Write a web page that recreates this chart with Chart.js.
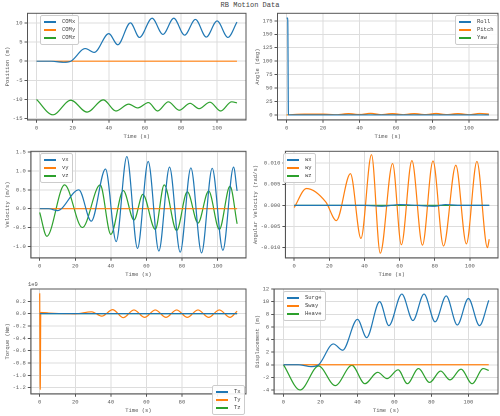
<!DOCTYPE html>
<html><head><meta charset="utf-8">
<script src="https://cdn.jsdelivr.net/npm/chart.js@4"></script>
<style>
body{margin:0;width:500px;height:416px;background:#fff;position:relative;overflow:hidden;font-family:"Liberation Mono",monospace}
.c{position:absolute}
#title{position:absolute;top:1px;left:0;width:500px;text-align:center;font-size:7px;color:#444;font-weight:normal}
.lg{position:absolute;border:1px solid #ccc;background:rgba(255,255,255,.9);font-size:5.5px;color:#444;padding:2px 3px;border-radius:2px;line-height:8px}
.lg i{display:inline-block;width:12px;height:2px;vertical-align:middle;margin-right:6px}
.off{position:absolute;font-size:5.5px;color:#555}
</style></head><body>
<div id="title">RB Motion Data</div>
<script>
const C1='#1f77b4',C2='#ff7f0e',C3='#2ca02c';
// Position
const comxT=[0,8,15,19,27,32,40,45,52,57,64,70,76,82,88,94,100,106,111];
const comxV=[0,0,-0.3,0,3.3,2.3,7.2,4.3,10,6.2,11.2,7,11.2,6.8,10.9,6.3,10.5,6.2,10.2];
const comyT=[0,111], comyV=[0,0];
const comzT=[0,9,19,28,37,44,51,56,62,67,73,79,85,90,96,102,108,111];
const comzV=[-10,-14,-10.2,-13.3,-10.1,-13,-11.2,-12.2,-10.8,-13,-10.6,-12.8,-11,-12.4,-10.7,-13,-10.6,-10.9];
// Angle
const rollT=[0,0.6,1,111], rollV=[180,180,0,0];
const pitchT=[0,10,20,28,34,40,46,52,58,64,70,76,82,88,94,100,106,111];
const pitchV=[0,1.5,1.5,0.5,2.5,0.8,3,0.5,2.5,0.5,2.5,0.6,2.7,0.6,2.5,0.5,2.8,1.5];
const yawT=[0,111], yawV=[0,0];
// Velocity
const vxT=[0,5,10,22,29,37,43,49,55,61,67,73,79,85,91,97,103,109,111];
const vxV=[0,0,-0.05,0.5,-0.33,1.05,-0.87,1.38,-1.05,1.25,-1.12,1.1,-1.15,1.08,-1.17,1.07,-1.1,1.1,0.47];
const vyT=[0,111], vyV=[0,0];
const vzT=[0,4,14,24,34,40,47,53,58,65,70,77,83,89,95,101,107,111];
const vzV=[-0.1,-0.73,0.63,-0.5,0.63,-0.68,0.48,-0.3,0.38,-0.55,0.63,-0.58,0.45,-0.38,0.47,-0.55,0.6,-0.4];
// Angular velocity
const wxT=[0,40,50,60,70,80,86,95,111], wxV=[0,0,-0.0002,0.0002,0,-0.0002,0.0002,0,0];
const wyT=[0,7,18,24,32,38,44,49,56,61,67,73,79,85,92,98,104,110,111];
const wyV=[-0.0005,0.004,0.0008,-0.0036,0.0075,-0.0078,0.012,-0.0113,0.0099,-0.0093,0.0106,-0.0094,0.0105,-0.0096,0.0095,-0.0091,0.0104,-0.01,-0.008];
const wzT=[0,111], wzV=[0,0];
// Torque
const txT=[0,111], txV=[0,0];
const tyT=[0,0.3,0.6,5,20,29,35,41,47,53,59,65,71,77,83,89,95,101,107,111];
const tyV=[3.3e8,-1.23e9,2e7,1e7,-5e6,3e7,-4e7,6.5e7,-6.5e7,6e7,-6e7,6e7,-6e7,6e7,-6e7,6e7,-6e7,6e7,-6e7,4e7];
const tzT=[0,111], tzV=[0,0];
// Displacement
const surgeT=comxT, surgeV=comxV;
const swayT=[0,111], swayV=[0,0];
const heaveT=comzT, heaveV=comzV.map(v=>v+10);

const xTicks=[0,20,40,60,80,100];
const frame={id:'frame',afterDraw(ch){const a=ch.chartArea,c=ch.ctx;c.save();c.strokeStyle='#555';c.lineWidth=1;c.strokeRect(a.left,a.top,a.right-a.left,a.bottom-a.top);c.restore();}};
const F={family:'Liberation Mono',size:5.5};
function ser(T,V,col,lab){return{label:lab,data:T.map((t,i)=>({x:t,y:V[i]})),borderColor:col,borderWidth:1.2,pointRadius:0,cubicInterpolationMode:'monotone',fill:false};}
function mk(id,l,t,w,h,sets,ylab,ymin,ymax,yt,fmt,pad){
  const cv=document.createElement('canvas');cv.className='c';cv.style.left=l+'px';cv.style.top=t+'px';cv.setAttribute('width',w);cv.setAttribute('height',h);document.body.appendChild(cv);
  new Chart(cv,{type:'line',data:{datasets:sets},plugins:[frame],options:{responsive:false,devicePixelRatio:2,animation:false,layout:{padding:pad},
  plugins:{legend:{display:false},tooltip:{enabled:false}},
  scales:{x:{type:'linear',min:-5,max:116,afterBuildTicks:s=>{s.ticks=xTicks.map(v=>({value:v}))},ticks:{font:F,color:'#555',maxRotation:0,padding:2},grid:{color:'#ddd',tickColor:'#555',tickLength:3},border:{color:'#555'},title:{display:true,text:'Time (s)',font:F,color:'#555',padding:0}},
  y:{min:ymin,max:ymax,afterBuildTicks:s=>{s.ticks=yt.map(v=>({value:v}))},ticks:{font:F,color:'#555',callback:fmt,padding:2},grid:{color:'#ddd',tickColor:'#555',tickLength:3},border:{color:'#555'},title:{display:true,text:ylab,font:F,color:'#555',padding:0}}}}});
}
function lg(l,t,items){const d=document.createElement('div');d.className='lg';d.style.left=l+'px';d.style.top=t+'px';d.innerHTML=items.map(x=>'<div><i style="background:'+x[1]+'"></i>'+x[0]+'</div>').join('');document.body.appendChild(d);}
const n0=v=>v.toString(), n1=v=>v.toFixed(1), n3=v=>v.toFixed(3);
mk('a',0,8,250,134,[ser(comxT,comxV,C1,'COMx'),ser(comyT,comyV,C2,'COMy'),ser(comzT,comzV,C3,'COMz')],'Position (m)',-15.3,12.5,[-15,-10,-5,0,5,10],n0,{left:4,right:4,top:4,bottom:2});
mk('b',250,8,250,134,[ser(rollT,rollV,C1,'Roll'),ser(pitchT,pitchV,C2,'Pitch'),ser(yawT,yawV,C3,'Yaw')],'Angle (deg)',-9,189,[0,25,50,75,100,125,150,175],n0,{left:4,right:2,top:4,bottom:2});
mk('c',0,146,250,134,[ser(vxT,vxV,C1,'vx'),ser(vyT,vyV,C2,'vy'),ser(vzT,vzV,C3,'vz')],'Velocity (m/s)',-1.3,1.52,[-1,-0.5,0,0.5,1,1.5],n1,{left:4,right:4,top:4,bottom:2});
mk('d',250,146,250,134,[ser(wxT,wxV,C1,'wx'),ser(wyT,wyV,C2,'wy'),ser(wzT,wzV,C3,'wz')],'Angular Velocity (rad/s)',-0.0124,0.0128,[-0.01,-0.005,0,0.005,0.01],n3,{left:2,right:2,top:4,bottom:2});
mk('e',0,283,250,133,[ser(txT,txV,C1,'Tx'),ser(tyT,tyV,C2,'Ty'),ser(tzT,tzV,C3,'Tz')],'Torque (Nm)',-1.3e9,0.4e9,[-1.2e9,-1e9,-0.8e9,-0.6e9,-0.4e9,-0.2e9,0,0.2e9],v=>(v/1e9).toFixed(1),{left:4,right:4,top:6,bottom:2});
mk('f',250,283,250,133,[ser(surgeT,surgeV,C1,'Surge'),ser(swayT,swayV,C2,'Sway'),ser(heaveT,heaveV,C3,'Heave')],'Displacement (m)',-4.6,12,[-4,-2,0,2,4,6,8,10,12],n0,{left:4,right:2,top:6,bottom:2});
lg(40,15,[['COMx',C1],['COMy',C2],['COMz',C3]]);
lg(455,15,[['Roll',C1],['Pitch',C2],['Yaw',C3]]);
lg(40,153,[['vx',C1],['vy',C2],['vz',C3]]);
lg(283,153,[['wx',C1],['wy',C2],['wz',C3]]);
lg(212,385,[['Tx',C1],['Ty',C2],['Tz',C3]]);
lg(283,291,[['Surge',C1],['Sway',C2],['Heave',C3]]);
const o=document.createElement('div');o.className='off';o.style.left='28px';o.style.top='281px';o.textContent='1e9';document.body.appendChild(o);
</script></body></html>
